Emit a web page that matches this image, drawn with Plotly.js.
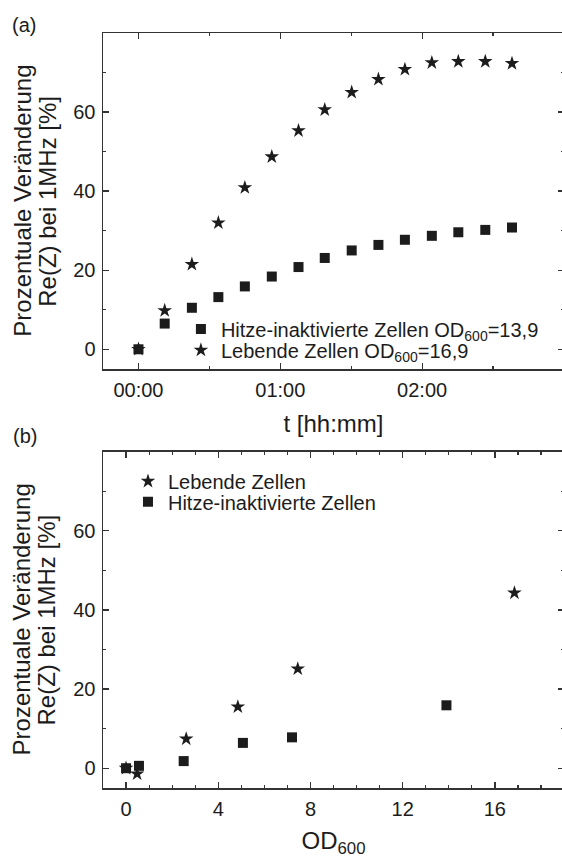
<!DOCTYPE html>
<html>
<head>
<meta charset="utf-8">
<script src="https://cdn.plot.ly/plotly-3.0.1.min.js"></script>
<style>
  html, body { margin: 0; padding: 0; background: #fff; overflow: hidden; width: 562px; height: 861px; }
  #chart { width: 568px; height: 861px; }
</style>
</head>
<body>
<div id="chart"></div>
<script>
// ---- Panel (a): time course ----
const timeMin = [0, 11.1, 22.6, 33.8, 45.0, 56.4, 67.7, 78.8, 90.2, 101.5, 112.7, 124.1, 135.3, 146.7, 158.0];
const heatA   = [0, 6.5, 10.5, 13.2, 15.9, 18.4, 20.8, 23.1, 25.0, 26.4, 27.7, 28.7, 29.6, 30.2, 30.8];
const liveA   = [0, 9.8, 21.5, 32.0, 40.9, 48.7, 55.3, 60.6, 65.0, 68.3, 70.8, 72.5, 72.8, 72.8, 72.3];
const timeTickVals = [0, 60, 120];
const timeTickText = ['00:00', '01:00', '02:00'];

// ---- Panel (b): dependence on OD600 ----
const odLive  = [0, 0.48, 2.61, 4.85, 7.45, 16.85];
const liveB   = [0, -1.4, 7.4, 15.5, 25.1, 44.3];
const odHeat  = [0, 0.56, 2.5, 5.07, 7.2, 13.9];
const heatB   = [0, 0.6, 1.8, 6.4, 7.8, 15.9];

const nameHeatA = 'Hitze-inaktivierte Zellen OD<sub>600</sub>=13,9';
const nameLiveA = 'Lebende Zellen OD<sub>600</sub>=16,9';
const nameLiveB = 'Lebende Zellen';
const nameHeatB = 'Hitze-inaktivierte Zellen';
const yTitleLine1 = 'Prozentuale Veränderung';
const yTitleLine2 = 'Re(Z) bei 1MHz [%]';

const FONT = '"Liberation Sans", Arial, Helvetica, sans-serif';
const INK = '#1c1c1c';
const LINE = '#333333';

const sq = {symbol: 'square', size: 10, color: INK, line: {width: 0}};
const st = {symbol: 'star', size: 11, color: INK, line: {width: 0}};

const traces = [
  {x: timeMin, y: heatA, type: 'scatter', mode: 'markers', marker: sq, name: nameHeatA, xaxis: 'x', yaxis: 'y', legend: 'legend'},
  {x: timeMin, y: liveA, type: 'scatter', mode: 'markers', marker: st, name: nameLiveA, xaxis: 'x', yaxis: 'y', legend: 'legend2'},
  {x: odLive, y: liveB, type: 'scatter', mode: 'markers', marker: st, name: nameLiveB, xaxis: 'x2', yaxis: 'y2', legend: 'legend3'},
  {x: odHeat, y: heatB, type: 'scatter', mode: 'markers', marker: sq, name: nameHeatB, xaxis: 'x2', yaxis: 'y2', legend: 'legend4'}
];

const axBase = {
  showline: true, linecolor: LINE, linewidth: 1.5, mirror: 'ticks',
  ticks: 'inside', ticklen: 6, tickwidth: 1.3, tickcolor: LINE,
  showgrid: false, zeroline: false,
  tickfont: {family: FONT, size: 20, color: INK},
  ticklabelstandoff: 2
};
const minorBase = {ticks: 'inside', ticklen: 3, tickwidth: 1.2, tickcolor: LINE, showgrid: false, tick0: 0};

const legBase = {
  xanchor: 'left', yanchor: 'top', bgcolor: 'rgba(0,0,0,0)', borderwidth: 0,
  font: {family: FONT, size: 20, color: INK}, itemsizing: 'trace'
};

const yTitleAnn = (text, x, y) => ({
  text: text, xref: 'paper', yref: 'paper', x: x, y: y, textangle: -90,
  xanchor: 'center', yanchor: 'middle', showarrow: false,
  font: {family: FONT, size: 24, color: INK}
});

const layout = {
  width: 568, height: 861,
  margin: {l: 103, r: 3.5, t: 32.7, b: 72.7},
  paper_bgcolor: '#fff', plot_bgcolor: '#fff',
  font: {family: FONT, color: INK},
  xaxis: Object.assign({}, axBase, {
    anchor: 'y', domain: [0, 1], range: [-15, 180],
    tickmode: 'array', tickvals: timeTickVals, ticktext: timeTickText,
    minor: Object.assign({dtick: 30}, minorBase),
    title: {text: 't [hh:mm]', font: {family: FONT, size: 24, color: INK}, standoff: 15}
  }),
  yaxis: Object.assign({}, axBase, {
    anchor: 'x', domain: [0.5549, 1], range: [-5, 80],
    tickmode: 'array', tickvals: [0, 20, 40, 60],
    minor: Object.assign({dtick: 10}, minorBase)
  }),
  xaxis2: Object.assign({}, axBase, {
    anchor: 'y2', domain: [0, 1], range: [-1, 19],
    tickmode: 'array', tickvals: [0, 4, 8, 12, 16],
    minor: Object.assign({dtick: 1}, minorBase),
    title: {text: 'OD<sub>600</sub>', font: {family: FONT, size: 24, color: INK}, standoff: 13}
  }),
  yaxis2: Object.assign({}, axBase, {
    anchor: 'x2', domain: [0, 0.4455], range: [-5, 80],
    tickmode: 'array', tickvals: [0, 20, 40, 60],
    minor: Object.assign({dtick: 10}, minorBase)
  }),
  showlegend: true,
  legend:  Object.assign({x: 0.169,  y: 0.6337}, legBase),
  legend2: Object.assign({x: 0.169,  y: 0.6059}, legBase),
  legend3: Object.assign({x: 0.0542, y: 0.4322}, legBase),
  legend4: Object.assign({x: 0.0542, y: 0.4050}, legBase),
  annotations: [
    {text: '(a)', xref: 'paper', yref: 'paper', x: -0.172, y: 1.011, xanchor: 'center', yanchor: 'middle', showarrow: false, font: {family: FONT, size: 20, color: INK}},
    {text: '(b)', xref: 'paper', yref: 'paper', x: -0.169, y: 0.4663, xanchor: 'center', yanchor: 'middle', showarrow: false, font: {family: FONT, size: 20, color: INK}},
    yTitleAnn(yTitleLine1, -0.1766, 0.7774),
    yTitleAnn(yTitleLine2, -0.1222, 0.7774),
    yTitleAnn(yTitleLine1, -0.1766, 0.2227),
    yTitleAnn(yTitleLine2, -0.1222, 0.2227)
  ]
};

Plotly.newPlot('chart', traces, layout, {displayModeBar: false, staticPlot: true});
</script>
</body>
</html>
